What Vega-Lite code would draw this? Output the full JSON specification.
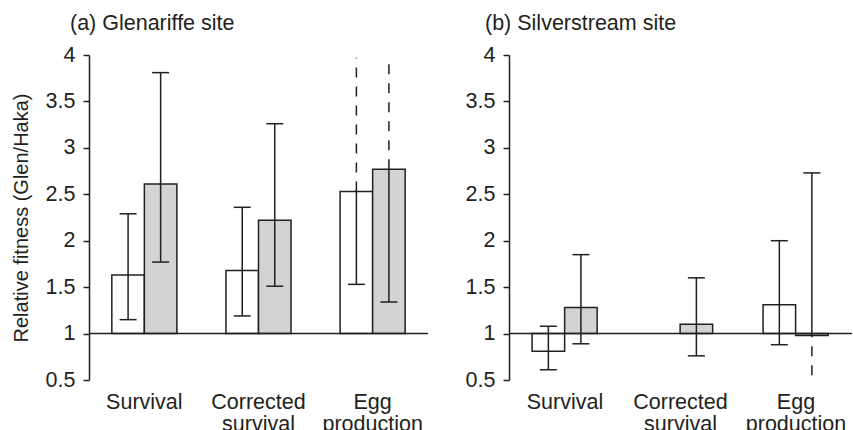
{
  "$schema": "https://vega.github.io/schema/vega-lite/v6.json",
  "background": "white",
  "padding": {"left": 11, "top": 12, "right": 0, "bottom": 0},
  "spacing": 36,
  "config": {
    "font": "Liberation Sans",
    "view": {"stroke": null},
    "axis": {
      "labelFont": "Liberation Sans", "labelFontSize": 21.5, "labelColor": "#231f20",
      "titleFont": "Liberation Sans", "titleFontSize": 20, "titleFontWeight": "normal", "titleColor": "#231f20",
      "domainColor": "#231f20", "tickColor": "#231f20", "grid": false, "domainWidth": 1.5, "tickWidth": 1.5
    },
    "title": {"font": "Liberation Sans", "fontSize": 21.5, "fontWeight": "normal", "color": "#231f20", "anchor": "start", "frame": "group"}
  },
  "datasets": {
    "bars": [
      {"site": "Glenariffe", "measure": "Survival", "series": "A", "value": 1.63},
      {"site": "Glenariffe", "measure": "Survival", "series": "B", "value": 2.61},
      {"site": "Glenariffe", "measure": "Corrected survival", "series": "A", "value": 1.68},
      {"site": "Glenariffe", "measure": "Corrected survival", "series": "B", "value": 2.22},
      {"site": "Glenariffe", "measure": "Egg production", "series": "A", "value": 2.53},
      {"site": "Glenariffe", "measure": "Egg production", "series": "B", "value": 2.77},
      {"site": "Silverstream", "measure": "Survival", "series": "A", "value": 0.81},
      {"site": "Silverstream", "measure": "Survival", "series": "B", "value": 1.28},
      {"site": "Silverstream", "measure": "Corrected survival", "series": "B", "value": 1.10},
      {"site": "Silverstream", "measure": "Egg production", "series": "A", "value": 1.31},
      {"site": "Silverstream", "measure": "Egg production", "series": "B", "value": 0.98}
    ],
    "ci": [
      {"site": "Glenariffe", "measure": "Survival", "series": "A", "lo": 1.15, "hi": 2.29, "kind": "bounded"},
      {"site": "Glenariffe", "measure": "Survival", "series": "B", "lo": 1.77, "hi": 3.81, "kind": "bounded"},
      {"site": "Glenariffe", "measure": "Corrected survival", "series": "A", "lo": 1.19, "hi": 2.36, "kind": "bounded"},
      {"site": "Glenariffe", "measure": "Corrected survival", "series": "B", "lo": 1.51, "hi": 3.26, "kind": "bounded"},
      {"site": "Glenariffe", "measure": "Egg production", "series": "A", "lo": 1.53, "hi": 2.55, "kind": "bounded"},
      {"site": "Glenariffe", "measure": "Egg production", "series": "A", "lo": 2.53, "hi": 3.97, "kind": "open"},
      {"site": "Glenariffe", "measure": "Egg production", "series": "B", "lo": 1.34, "hi": 2.77, "kind": "bounded"},
      {"site": "Glenariffe", "measure": "Egg production", "series": "B", "lo": 2.77, "hi": 3.97, "kind": "open"},
      {"site": "Silverstream", "measure": "Survival", "series": "A", "lo": 0.61, "hi": 1.08, "kind": "bounded"},
      {"site": "Silverstream", "measure": "Survival", "series": "B", "lo": 0.89, "hi": 1.85, "kind": "bounded"},
      {"site": "Silverstream", "measure": "Corrected survival", "series": "B", "lo": 0.76, "hi": 1.60, "kind": "bounded"},
      {"site": "Silverstream", "measure": "Egg production", "series": "A", "lo": 0.88, "hi": 2.00, "kind": "bounded"},
      {"site": "Silverstream", "measure": "Egg production", "series": "B", "lo": 0.98, "hi": 2.73, "kind": "bounded"},
      {"site": "Silverstream", "measure": "Egg production", "series": "B", "lo": 0.55, "hi": 0.98, "kind": "open"}
    ],
    "caps": [
      {"site": "Glenariffe", "measure": "Survival", "series": "A", "bound": 1.15},
      {"site": "Glenariffe", "measure": "Survival", "series": "A", "bound": 2.29},
      {"site": "Glenariffe", "measure": "Survival", "series": "B", "bound": 1.77},
      {"site": "Glenariffe", "measure": "Survival", "series": "B", "bound": 3.81},
      {"site": "Glenariffe", "measure": "Corrected survival", "series": "A", "bound": 1.19},
      {"site": "Glenariffe", "measure": "Corrected survival", "series": "A", "bound": 2.36},
      {"site": "Glenariffe", "measure": "Corrected survival", "series": "B", "bound": 1.51},
      {"site": "Glenariffe", "measure": "Corrected survival", "series": "B", "bound": 3.26},
      {"site": "Glenariffe", "measure": "Egg production", "series": "A", "bound": 1.53},
      {"site": "Glenariffe", "measure": "Egg production", "series": "B", "bound": 1.34},
      {"site": "Silverstream", "measure": "Survival", "series": "A", "bound": 0.61},
      {"site": "Silverstream", "measure": "Survival", "series": "A", "bound": 1.08},
      {"site": "Silverstream", "measure": "Survival", "series": "B", "bound": 0.89},
      {"site": "Silverstream", "measure": "Survival", "series": "B", "bound": 1.85},
      {"site": "Silverstream", "measure": "Corrected survival", "series": "B", "bound": 0.76},
      {"site": "Silverstream", "measure": "Corrected survival", "series": "B", "bound": 1.60},
      {"site": "Silverstream", "measure": "Egg production", "series": "A", "bound": 0.88},
      {"site": "Silverstream", "measure": "Egg production", "series": "A", "bound": 2.00},
      {"site": "Silverstream", "measure": "Egg production", "series": "B", "bound": 2.73}
    ]
  },
  "hconcat": [
    {
      "width": 339, "height": 325,
      "title": {"text": "(a) Glenariffe site", "dx": -19, "offset": 10},
      "layer": [
        {
          "data": {"name": "bars"},
          "transform": [{"filter": "datum.site == 'Glenariffe'"}],
          "mark": {"type": "bar", "stroke": "#231f20", "strokeWidth": 1.5},
          "encoding": {
            "x": {"field": "measure", "type": "nominal", "sort": ["Survival", "Corrected survival", "Egg production"],
                  "scale": {"paddingInner": 0.43, "paddingOuter": 0.2},
                  "axis": {"title": null, "domain": false, "ticks": false, "labelAngle": 0, "labelPadding": 11, "labelExpr": "split(datum.label, ' ')", "labelLineHeight": 22}},
            "xOffset": {"field": "series", "type": "nominal", "scale": {"domain": ["A", "B"]}},
            "y": {"field": "value", "type": "quantitative", "scale": {"domain": [0.5, 4], "nice": false, "zero": false},
                  "axis": {"values": [0.5, 1, 1.5, 2, 2.5, 3, 3.5, 4], "format": "~g", "title": "Relative fitness (Glen/Haka)", "tickSize": 6, "labelPadding": 8, "titlePadding": 14}},
            "y2": {"datum": 1},
            "fill": {"field": "series", "type": "nominal", "scale": {"domain": ["A", "B"], "range": ["#ffffff", "#d1d3d4"]}, "legend": null}
          }
        },
        {
          "data": {"values": [{}]},
          "mark": {"type": "rule", "color": "#231f20", "strokeWidth": 1.5},
          "encoding": {"y": {"datum": 1, "type": "quantitative"}}
        },
        {
          "data": {"name": "ci"},
          "transform": [{"filter": "datum.site == 'Glenariffe'"}],
          "mark": {"type": "rule", "color": "#231f20", "strokeWidth": 1.5},
          "encoding": {
            "x": {"field": "measure", "type": "nominal", "sort": ["Survival", "Corrected survival", "Egg production"]},
            "xOffset": {"field": "series", "type": "nominal"},
            "y": {"field": "lo", "type": "quantitative"},
            "y2": {"field": "hi"},
            "strokeDash": {"field": "kind", "type": "nominal", "scale": {"domain": ["bounded", "open"], "range": [[1, 0], [10, 9]]}, "legend": null}
          }
        },
        {
          "data": {"name": "caps"},
          "transform": [{"filter": "datum.site == 'Glenariffe'"}],
          "mark": {"type": "tick", "color": "#231f20", "thickness": 1.5, "size": 17, "opacity": 1},
          "encoding": {
            "x": {"field": "measure", "type": "nominal", "sort": ["Survival", "Corrected survival", "Egg production"]},
            "xOffset": {"field": "series", "type": "nominal"},
            "y": {"field": "bound", "type": "quantitative"}
          }
        }
      ]
    },
    {
      "width": 343, "height": 325,
      "title": {"text": "(b) Silverstream site", "dx": -24, "offset": 10},
      "layer": [
        {
          "data": {"name": "bars"},
          "transform": [{"filter": "datum.site == 'Silverstream'"}],
          "mark": {"type": "bar", "stroke": "#231f20", "strokeWidth": 1.5},
          "encoding": {
            "x": {"field": "measure", "type": "nominal", "sort": ["Survival", "Corrected survival", "Egg production"],
                  "scale": {"paddingInner": 0.43, "paddingOuter": 0.2},
                  "axis": {"title": null, "domain": false, "ticks": false, "labelAngle": 0, "labelPadding": 11, "labelExpr": "split(datum.label, ' ')", "labelLineHeight": 22}},
            "xOffset": {"field": "series", "type": "nominal", "scale": {"domain": ["A", "B"]}},
            "y": {"field": "value", "type": "quantitative", "scale": {"domain": [0.5, 4], "nice": false, "zero": false},
                  "axis": {"values": [0.5, 1, 1.5, 2, 2.5, 3, 3.5, 4], "format": "~g", "title": null, "tickSize": 6, "labelPadding": 8}},
            "y2": {"datum": 1},
            "fill": {"field": "series", "type": "nominal", "scale": {"domain": ["A", "B"], "range": ["#ffffff", "#d1d3d4"]}, "legend": null}
          }
        },
        {
          "data": {"values": [{}]},
          "mark": {"type": "rule", "color": "#231f20", "strokeWidth": 1.5},
          "encoding": {"y": {"datum": 1, "type": "quantitative"}}
        },
        {
          "data": {"name": "ci"},
          "transform": [{"filter": "datum.site == 'Silverstream'"}],
          "mark": {"type": "rule", "color": "#231f20", "strokeWidth": 1.5},
          "encoding": {
            "x": {"field": "measure", "type": "nominal", "sort": ["Survival", "Corrected survival", "Egg production"]},
            "xOffset": {"field": "series", "type": "nominal"},
            "y": {"field": "lo", "type": "quantitative"},
            "y2": {"field": "hi"},
            "strokeDash": {"field": "kind", "type": "nominal", "scale": {"domain": ["bounded", "open"], "range": [[1, 0], [10, 9]]}, "legend": null}
          }
        },
        {
          "data": {"name": "caps"},
          "transform": [{"filter": "datum.site == 'Silverstream'"}],
          "mark": {"type": "tick", "color": "#231f20", "thickness": 1.5, "size": 17, "opacity": 1},
          "encoding": {
            "x": {"field": "measure", "type": "nominal", "sort": ["Survival", "Corrected survival", "Egg production"]},
            "xOffset": {"field": "series", "type": "nominal"},
            "y": {"field": "bound", "type": "quantitative"}
          }
        }
      ]
    }
  ]
}
